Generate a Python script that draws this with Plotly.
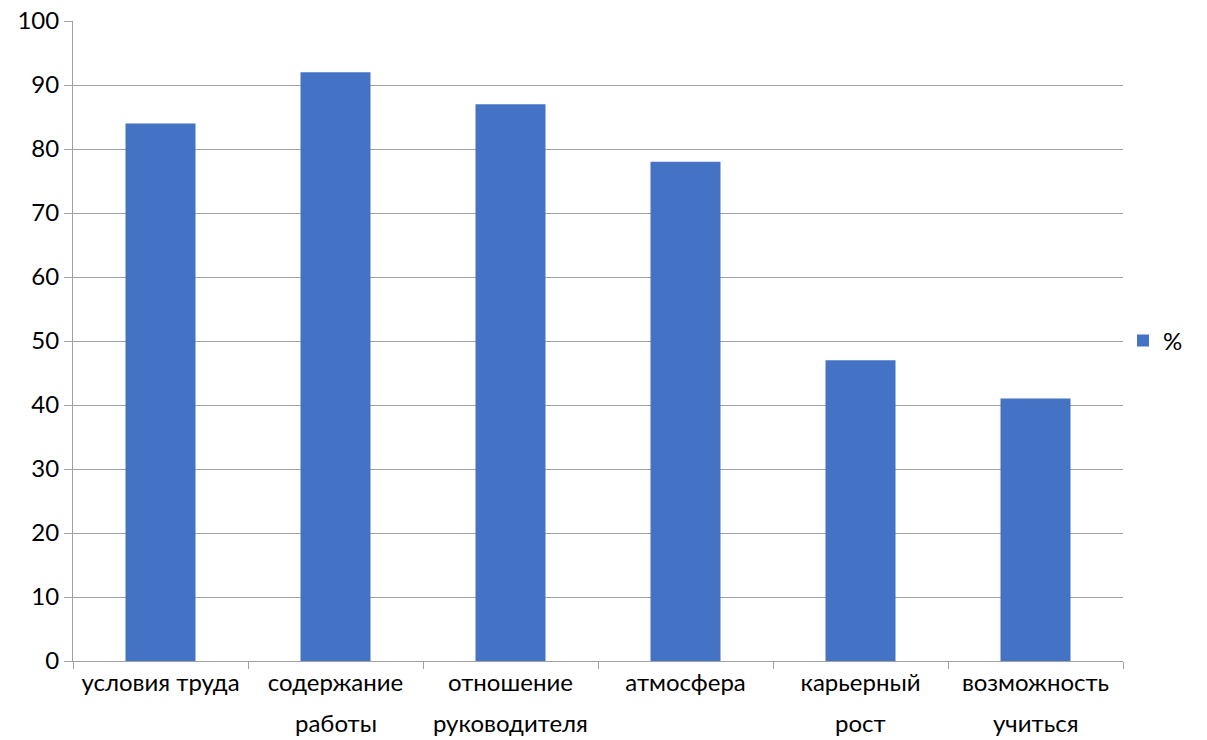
import plotly.graph_objects as go

categories = ["условия труда", "содержание работы", "отношение руководителя",
              "атмосфера", "карьерный рост", "возможность учиться"]
label_line1 = ["условия труда", "содержание", "отношение", "атмосфера", "карьерный", "возможность"]
label_line2 = ["", "работы", "руководителя", "", "рост", "учиться"]
values = [84, 92, 87, 78, 47, 41]
series_name = "%"
y_ticks = [0, 10, 20, 30, 40, 50, 60, 70, 80, 90, 100]

FONT = "Lato"
FS = 24
fig = go.Figure()
fig.add_trace(go.Bar(x=categories, y=values, name=series_name,
                     marker=dict(color="#4472C4", line=dict(width=0))))

for cat, l2 in zip(categories, label_line2):
    if l2:
        fig.add_annotation(x=cat, y=0, xref="x", yref="y", text=l2, showarrow=False,
                           yanchor="middle", yshift=-61,
                           font=dict(family=FONT, size=FS, color="#000000"))

fig.update_layout(
    width=1199, height=732,
    margin=dict(l=65, r=84, t=13, b=79, autoexpand=False),
    paper_bgcolor="white", plot_bgcolor="white",
    bargap=0.6,
    font=dict(family=FONT, size=FS, color="#000000"),
    showlegend=True,
    legend=dict(x=1.0, y=0.5, xanchor="left", yanchor="middle",
                font=dict(family=FONT, size=FS), itemwidth=30),
    xaxis=dict(
        tickmode="array", tickvals=categories, ticktext=label_line1,
        tickson="boundaries", ticks="outside", ticklen=7, tickcolor="#A0A0A0",
        showline=True, linecolor="#A0A0A0", linewidth=1, showgrid=False,
        tickfont=dict(family=FONT, size=FS), automargin=False,
    ),
    yaxis=dict(
        range=[0, 100], tickvals=y_ticks, ticks="outside", ticklen=8, tickcolor="#A0A0A0",
        showline=True, linecolor="#A0A0A0", linewidth=1,
        showgrid=True, gridcolor="#A0A0A0", gridwidth=1, zeroline=False,
        tickfont=dict(family=FONT, size=FS), automargin=False,
        ticklabeloverflow="allow",
    ),
)
fig.write_html("out.html")
